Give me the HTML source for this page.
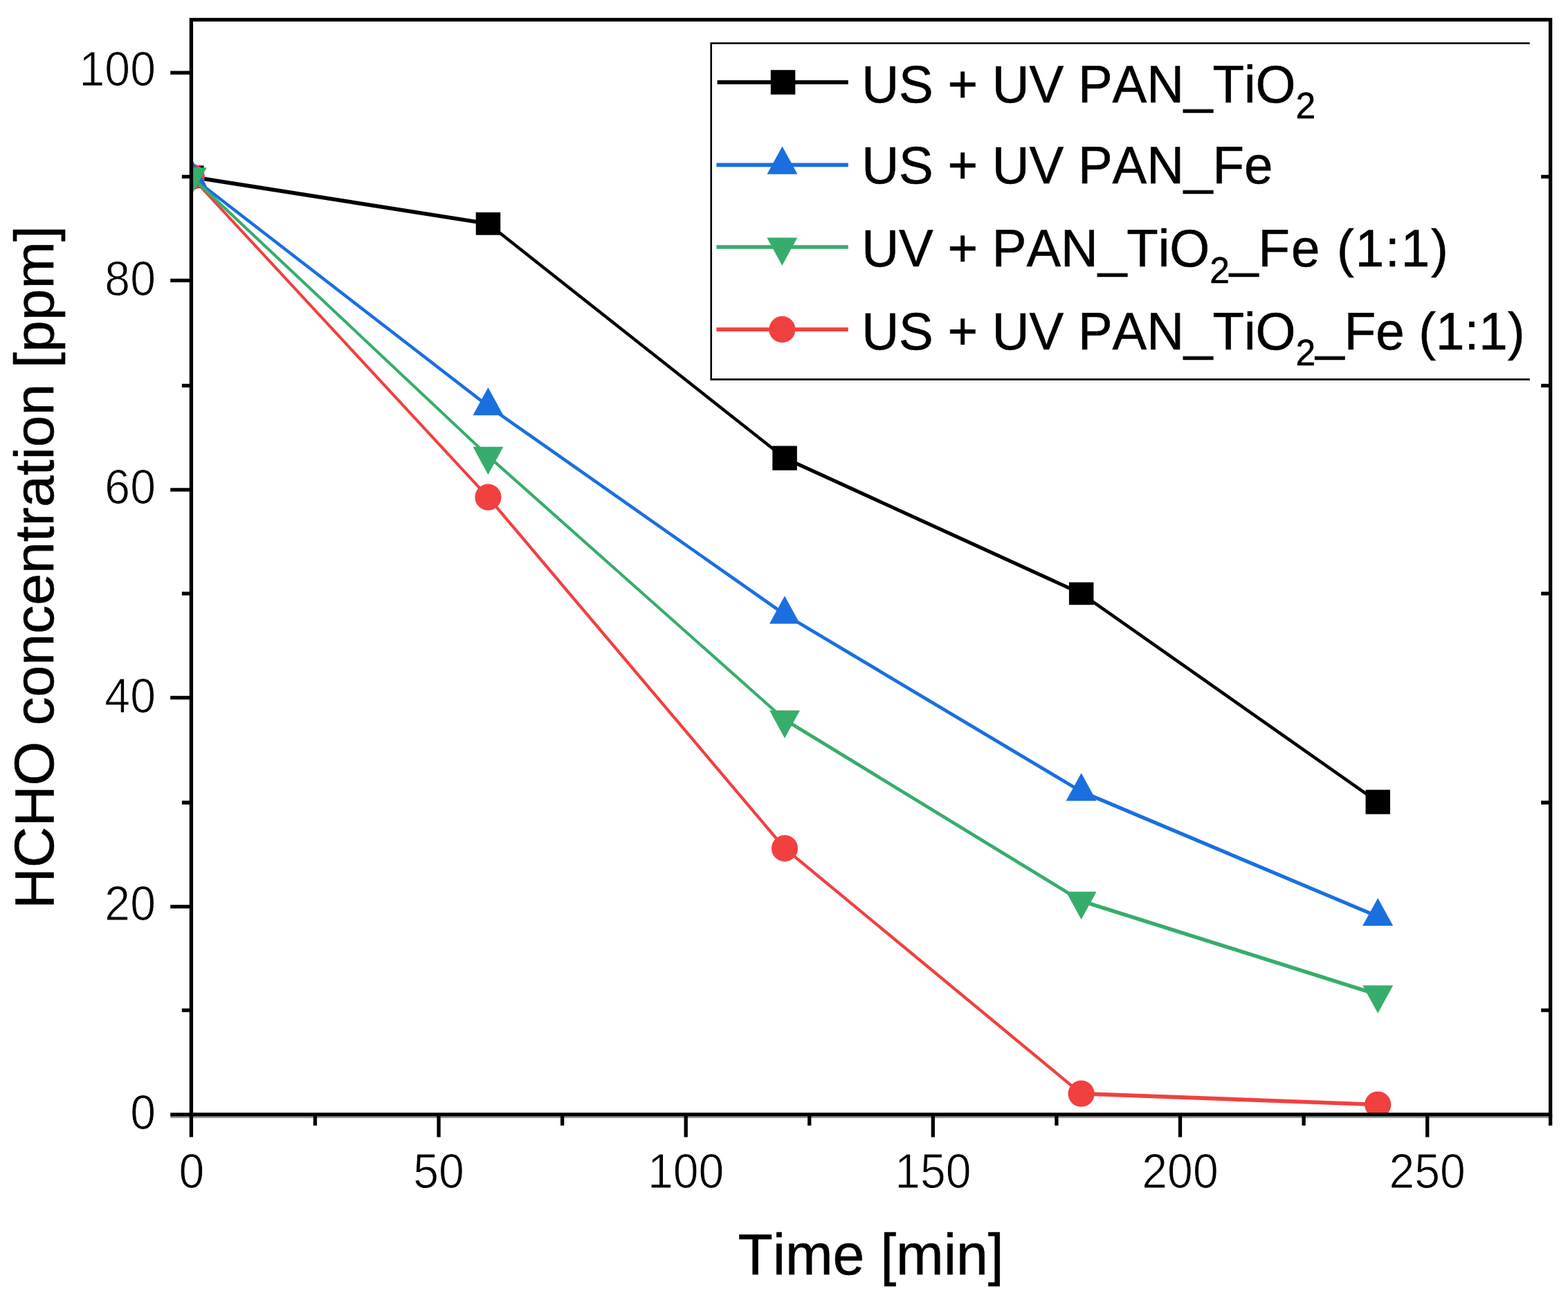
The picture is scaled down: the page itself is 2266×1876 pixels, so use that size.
<!DOCTYPE html>
<html lang="en"><head><meta charset="utf-8"><title>HCHO concentration vs. time</title>
<style>
html,body{margin:0;padding:0;background:#fff;}
body{width:2266px;height:1876px;overflow:hidden;}
svg{display:block;}
text{font-family:"Liberation Sans",Arial,Helvetica,sans-serif;fill:#000;stroke:#000;stroke-width:0.6px;font-kerning:none;}
.tick{font-size:69.6px;stroke:#fff;stroke-width:1px;}
.title{font-size:83px;}
.leg{font-size:76.5px;}
.sub{font-size:53px;}
</style></head><body>
<svg width="2266" height="1876" viewBox="0 0 2266 1876">
<rect width="2266" height="1876" fill="#fff"/>
<defs><clipPath id="plot"><rect x="276.4" y="28.5" width="1964.2" height="1582.3"/></clipPath></defs>
<g clip-path="url(#plot)">
<line x1="276.8" y1="255.6" x2="705.4" y2="323.3" stroke="#000000" stroke-width="5.63" stroke-linecap="round"/>
<line x1="705.4" y1="323.3" x2="1134.0" y2="662.1" stroke="#000000" stroke-width="4.47" stroke-linecap="round"/>
<line x1="1134.0" y1="662.1" x2="1562.6" y2="857.9" stroke="#000000" stroke-width="5.18" stroke-linecap="round"/>
<line x1="1562.6" y1="857.9" x2="1991.2" y2="1159.1" stroke="#000000" stroke-width="4.66" stroke-linecap="round"/>
<rect x="259.1" y="239.3" width="35.5" height="32.6" fill="#000000"/>
<rect x="687.7" y="306.9" width="35.5" height="32.8" fill="#000000"/>
<rect x="1116.3" y="644.5" width="35.5" height="35.2" fill="#000000"/>
<rect x="1544.9" y="841.6" width="35.5" height="32.6" fill="#000000"/>
<rect x="1973.5" y="1141.5" width="35.5" height="35.2" fill="#000000"/>
<line x1="276.8" y1="255.6" x2="705.4" y2="718.6" stroke="#f14040" stroke-width="4.18" stroke-linecap="round"/>
<line x1="705.4" y1="718.6" x2="1134.0" y2="1226.1" stroke="#f14040" stroke-width="4.35" stroke-linecap="round"/>
<line x1="1134.0" y1="1226.1" x2="1562.6" y2="1580.7" stroke="#f14040" stroke-width="4.39" stroke-linecap="round"/>
<line x1="1562.6" y1="1580.7" x2="1991.2" y2="1596.5" stroke="#f14040" stroke-width="5.70" stroke-linecap="round"/>
<circle cx="276.8" cy="255.6" r="19.1" fill="#f14040"/>
<circle cx="705.4" cy="718.6" r="19.1" fill="#f14040"/>
<circle cx="1134.0" cy="1226.1" r="19.1" fill="#f14040"/>
<circle cx="1562.6" cy="1580.7" r="19.1" fill="#f14040"/>
<circle cx="1991.2" cy="1596.5" r="19.1" fill="#f14040"/>
<line x1="276.8" y1="255.6" x2="705.4" y2="586.9" stroke="#1a6fdf" stroke-width="4.51" stroke-linecap="round"/>
<line x1="705.4" y1="586.9" x2="1134.0" y2="888.0" stroke="#1a6fdf" stroke-width="4.66" stroke-linecap="round"/>
<line x1="1134.0" y1="888.0" x2="1562.6" y2="1144.0" stroke="#1a6fdf" stroke-width="4.89" stroke-linecap="round"/>
<line x1="1562.6" y1="1144.0" x2="1991.2" y2="1324.7" stroke="#1a6fdf" stroke-width="5.25" stroke-linecap="round"/>
<polygon points="276.8,228.8 254.8,269.0 298.8,269.0" fill="#1a6fdf"/>
<polygon points="705.4,560.1 683.4,600.3 727.4,600.3" fill="#1a6fdf"/>
<polygon points="1134.0,861.2 1112.0,901.4 1156.0,901.4" fill="#1a6fdf"/>
<polygon points="1562.6,1117.2 1540.6,1157.4 1584.6,1157.4" fill="#1a6fdf"/>
<polygon points="1991.2,1297.9 1969.2,1338.1 2013.2,1338.1" fill="#1a6fdf"/>
<line x1="276.8" y1="255.6" x2="705.4" y2="659.1" stroke="#37ad6b" stroke-width="4.15" stroke-linecap="round"/>
<line x1="705.4" y1="659.1" x2="1134.0" y2="1040.1" stroke="#37ad6b" stroke-width="4.26" stroke-linecap="round"/>
<line x1="1134.0" y1="1040.1" x2="1562.6" y2="1302.1" stroke="#37ad6b" stroke-width="4.86" stroke-linecap="round"/>
<line x1="1562.6" y1="1302.1" x2="1991.2" y2="1437.6" stroke="#37ad6b" stroke-width="5.43" stroke-linecap="round"/>
<polygon points="276.8,282.4 254.8,242.2 298.8,242.2" fill="#37ad6b"/>
<polygon points="705.4,685.9 683.4,645.7 727.4,645.7" fill="#37ad6b"/>
<polygon points="1134.0,1066.9 1112.0,1026.7 1156.0,1026.7" fill="#37ad6b"/>
<polygon points="1562.6,1328.9 1540.6,1288.7 1584.6,1288.7" fill="#37ad6b"/>
<polygon points="1991.2,1464.4 1969.2,1424.2 2013.2,1424.2" fill="#37ad6b"/>
</g>
<g>
<rect x="1027.7" y="62.5" width="1183.1" height="485.9" fill="#fff"/>
<polyline points="2210.8,62.5 1027.7,62.5 1027.7,548.4 2210.8,548.4" fill="none" stroke="#000" stroke-width="2.6"/>
<line x1="1036.6" y1="118.9" x2="1225.8" y2="118.9" stroke="#000000" stroke-width="5.7"/>
<rect x="1113.8" y="101.2" width="35.5" height="35.4" fill="#000000"/>
<text class="leg" transform="translate(1245.3 147.5) scale(0.974 1)">US + UV PAN_TiO<tspan class="sub" dy="23.5">2</tspan></text>
<line x1="1035.4" y1="238.4" x2="1225.8" y2="238.4" stroke="#1a6fdf" stroke-width="5.7"/>
<polygon points="1130.5,211.6 1108.5,251.8 1152.5,251.8" fill="#1a6fdf"/>
<text class="leg" transform="translate(1245.3 264.9) scale(0.974 1)">US + UV PAN_Fe</text>
<line x1="1035.4" y1="357.0" x2="1225.8" y2="357.0" stroke="#37ad6b" stroke-width="5.7"/>
<polygon points="1130.3,383.8 1108.3,343.6 1152.3,343.6" fill="#37ad6b"/>
<text class="leg" transform="translate(1245.3 385.0) scale(0.974 1)">UV + PAN_TiO<tspan class="sub" dy="23.5">2</tspan><tspan dy="-23.5">_</tspan><tspan letter-spacing="2">Fe (1:1)</tspan></text>
<line x1="1035.4" y1="476.2" x2="1225.8" y2="476.2" stroke="#f14040" stroke-width="5.7"/>
<circle cx="1130.4" cy="476.2" r="19.1" fill="#f14040"/>
<text class="leg" transform="translate(1245.3 504.5) scale(0.974 1)">US + UV PAN_TiO<tspan class="sub" dy="23.5">2</tspan><tspan dy="-23.5">_Fe (1:1)</tspan></text>
</g>
<line x1="246.2" y1="1614.6" x2="2243.2" y2="1614.6" stroke="#9a9a9a" stroke-width="2.6"/>
<rect x="276.4" y="28.5" width="1964.2" height="1582.3" fill="none" stroke="#000" stroke-width="5.3"/>
<path d="M246.2,1610.9H276.4M246.2,1310.4H276.4M246.2,1008.4H276.4M246.2,707.9H276.4M246.2,405.4H276.4M246.2,105.1H276.4M262.9,1460.2H276.4M2227.1,1460.2H2240.6M262.9,1160.0H276.4M2227.1,1160.0H2240.6M262.9,857.9H276.4M2227.1,857.9H2240.6M262.9,557.4H276.4M2227.1,557.4H2240.6M262.9,255.3H276.4M2227.1,255.3H2240.6M276.4,1610.8V1643.4M634.0,1610.8V1643.4M991.2,1610.8V1643.4M1348.3,1610.8V1643.4M1705.5,1610.8V1643.4M2062.7,1610.8V1643.4M455.4,1610.8V1626.8M812.6,1610.8V1626.8M1169.7,1610.8V1626.8M1526.9,1610.8V1626.8M1884.1,1610.8V1626.8M2240.6,1610.8V1626.8" fill="none" stroke="#000" stroke-width="5.3"/>
<text class="tick" transform="translate(224.9 1632.1) scale(0.95 1)" text-anchor="end">0</text>
<text class="tick" transform="translate(224.9 1329.5) scale(0.95 1)" text-anchor="end">20</text>
<text class="tick" transform="translate(224.9 1029.7) scale(0.95 1)" text-anchor="end">40</text>
<text class="tick" transform="translate(224.9 727.8) scale(0.95 1)" text-anchor="end">60</text>
<text class="tick" transform="translate(224.9 426.9) scale(0.95 1)" text-anchor="end">80</text>
<text class="tick" transform="translate(224.9 124.3) scale(0.95 1)" text-anchor="end">100</text>
<text class="tick" transform="translate(276.8 1717.3) scale(0.95 1)" text-anchor="middle">0</text>
<text class="tick" transform="translate(634.0 1717.3) scale(0.95 1)" text-anchor="middle">50</text>
<text class="tick" transform="translate(991.2 1717.3) scale(0.95 1)" text-anchor="middle">100</text>
<text class="tick" transform="translate(1348.3 1717.3) scale(0.95 1)" text-anchor="middle">150</text>
<text class="tick" transform="translate(1705.5 1717.3) scale(0.95 1)" text-anchor="middle">200</text>
<text class="tick" transform="translate(2062.7 1717.3) scale(0.95 1)" text-anchor="middle">250</text>
<text class="title" transform="translate(1258.5 1842.2) scale(0.992 1)" text-anchor="middle">Time [min]</text>
<text class="title" style="font-size:80.5px" transform="translate(77.1 819.9) rotate(-90) scale(1.022 1)" text-anchor="middle">HCHO concentration [ppm]</text>
</svg>
</body></html>
